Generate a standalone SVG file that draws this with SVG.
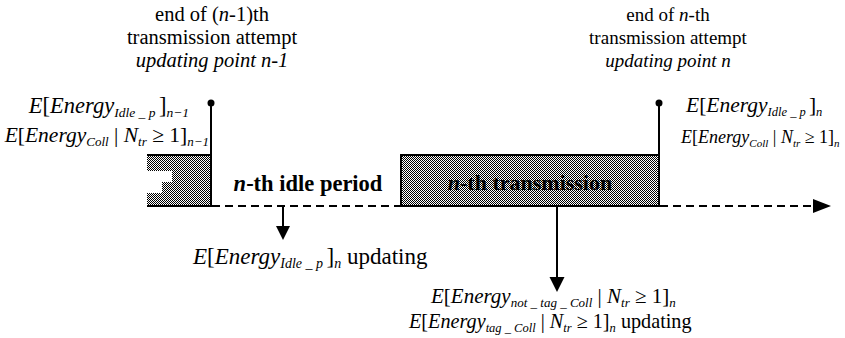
<svg xmlns="http://www.w3.org/2000/svg" width="845" height="338" viewBox="0 0 845 338">
  <defs>
    <!-- fine checker used for the busy (transmission) intervals -->
    <pattern id="dots" width="2" height="2" patternUnits="userSpaceOnUse">
      <rect width="2" height="2" fill="#ffffff"/>
      <rect width="1" height="1" fill="#000000"/>
      <rect x="1" y="1" width="1" height="1" fill="#000000"/>
    </pattern>
  </defs>
  <style>
    .t { font-family: "Liberation Serif", "Times New Roman", serif; fill: #000; }
    .i { font-style: italic; }
    .b { font-weight: bold; }
    .ln { stroke: #000; stroke-width: 2; fill: none; }
    .dash { stroke: #000; stroke-width: 2; fill: none; stroke-dasharray: 8 5; }
    .busy { fill: url(#dots); stroke: #000; stroke-width: 2; }
    .head { fill: #000; }
  </style>
  <rect width="845" height="338" fill="#ffffff"/>

  <!-- previous transmission (tail end, torn left edge) -->
  <g id="prev-transmission">
    <path d="M147,155 H211 V206 H147 V193 H162 V182 H172 V171 H147 Z" fill="url(#dots)"/>
    <path class="ln" d="M147,155 H211 M147,206 H211"/>
  </g>

  <!-- n-th transmission interval -->
  <g id="nth-transmission">
    <rect class="busy" x="401" y="155" width="258" height="51"/>
    <text class="t b" x="530" y="190" font-size="22" text-anchor="middle"><tspan class="i">n</tspan>-th transmission</text>
  </g>

  <!-- idle period label -->
  <g id="idle-period">
    <text class="t b" x="308" y="191" font-size="22.5" text-anchor="middle"><tspan class="i">n</tspan>-th idle period</text>
  </g>

  <!-- updating point n-1 -->
  <g id="point-n-1">
    <text class="t" x="212" y="21" font-size="20.5" text-anchor="middle">end of (<tspan class="i">n</tspan>-1)th</text>
    <text class="t" x="212" y="44" font-size="20.5" text-anchor="middle">transmission attempt</text>
    <text class="t i" x="212" y="67" font-size="20.5" text-anchor="middle">updating point n-1</text>
    <text class="t" x="189" y="113" font-size="22.5" text-anchor="end"><tspan class="i">E</tspan>[<tspan class="i">Energy</tspan><tspan class="i" font-size="13.5" dy="4">Idle _ p </tspan><tspan dy="-4">]</tspan><tspan class="i" font-size="13.5" dy="4">n−1</tspan></text>
    <text class="t" x="209" y="142" font-size="21.5" text-anchor="end"><tspan class="i">E</tspan>[<tspan class="i">Energy</tspan><tspan class="i" font-size="13" dy="4">Coll</tspan><tspan dy="-4"> | </tspan><tspan class="i">N</tspan><tspan class="i" font-size="13" dy="4">tr</tspan><tspan dy="-4"> ≥ 1]</tspan><tspan class="i" font-size="13" dy="4">n−1</tspan></text>
  </g>

  <!-- updating point n -->
  <g id="point-n">
    <text class="t" x="668" y="21" font-size="19" text-anchor="middle">end of <tspan class="i">n</tspan>-th</text>
    <text class="t" x="668" y="44" font-size="19" text-anchor="middle">transmission attempt</text>
    <text class="t i" x="668" y="67" font-size="19" text-anchor="middle">updating point n</text>
    <text class="t" x="686" y="112" font-size="21.5"><tspan class="i">E</tspan>[<tspan class="i">Energy</tspan><tspan class="i" font-size="12.5" dy="4">Idle _ p </tspan><tspan dy="-4">]</tspan><tspan class="i" font-size="12.5" dy="4">n</tspan></text>
    <text class="t" x="681" y="143" font-size="18"><tspan class="i">E</tspan>[<tspan class="i">Energy</tspan><tspan class="i" font-size="11" dy="3.5">Coll</tspan><tspan dy="-3.5"> | </tspan><tspan class="i">N</tspan><tspan class="i" font-size="11" dy="3.5">tr</tspan><tspan dy="-3.5"> ≥ 1]</tspan><tspan class="i" font-size="11" dy="3.5">n</tspan></text>
  </g>

  <!-- idle-period energy update -->
  <g id="idle-update">
    <text class="t" x="193" y="264" font-size="23"><tspan class="i">E</tspan>[<tspan class="i">Energy</tspan><tspan class="i" font-size="14" dy="4">Idle _ p </tspan><tspan dy="-4">]</tspan><tspan class="i" font-size="14" dy="4">n</tspan><tspan dy="-4"> updating</tspan></text>
  </g>

  <!-- collision energy update -->
  <g id="coll-update">
    <text class="t" x="431" y="303" font-size="21"><tspan class="i">E</tspan>[<tspan class="i">Energy</tspan><tspan class="i" font-size="13" dy="4">not _ tag _ Coll</tspan><tspan dy="-4"> | </tspan><tspan class="i">N</tspan><tspan class="i" font-size="13" dy="4">tr</tspan><tspan dy="-4"> ≥ 1]</tspan><tspan class="i" font-size="13" dy="4">n</tspan></text>
    <text class="t" x="409" y="328" font-size="20.2"><tspan class="i">E</tspan>[<tspan class="i">Energy</tspan><tspan class="i" font-size="12.5" dy="4">tag _ Coll</tspan><tspan dy="-4"> | </tspan><tspan class="i">N</tspan><tspan class="i" font-size="12.5" dy="4">tr</tspan><tspan dy="-4"> ≥ 1]</tspan><tspan class="i" font-size="12.5" dy="4">n</tspan><tspan dy="-4"> updating</tspan></text>
  </g>

  <!-- time axis, markers and update arrows -->
  <g id="connectors">
    <line class="ln" x1="211" y1="103" x2="211" y2="207"/>
    <circle cx="211" cy="103" r="3.5" class="head"/>
    <line class="ln" x1="659" y1="103" x2="659" y2="207"/>
    <circle cx="659" cy="103" r="3.5" class="head"/>
    <line class="dash" x1="212" y1="206" x2="401" y2="206"/>
    <line class="dash" x1="660" y1="206" x2="815" y2="206"/>
    <path class="head" d="M813,199 L831,206 L813,213 Z"/>
    <line class="ln" x1="283" y1="206" x2="283" y2="228"/>
    <path class="head" d="M276,226 L290,226 L283,240 Z"/>
    <line class="ln" x1="557" y1="206" x2="557" y2="279"/>
    <path class="head" d="M549.5,277 L564.5,277 L557,292 Z"/>
  </g>
</svg>
